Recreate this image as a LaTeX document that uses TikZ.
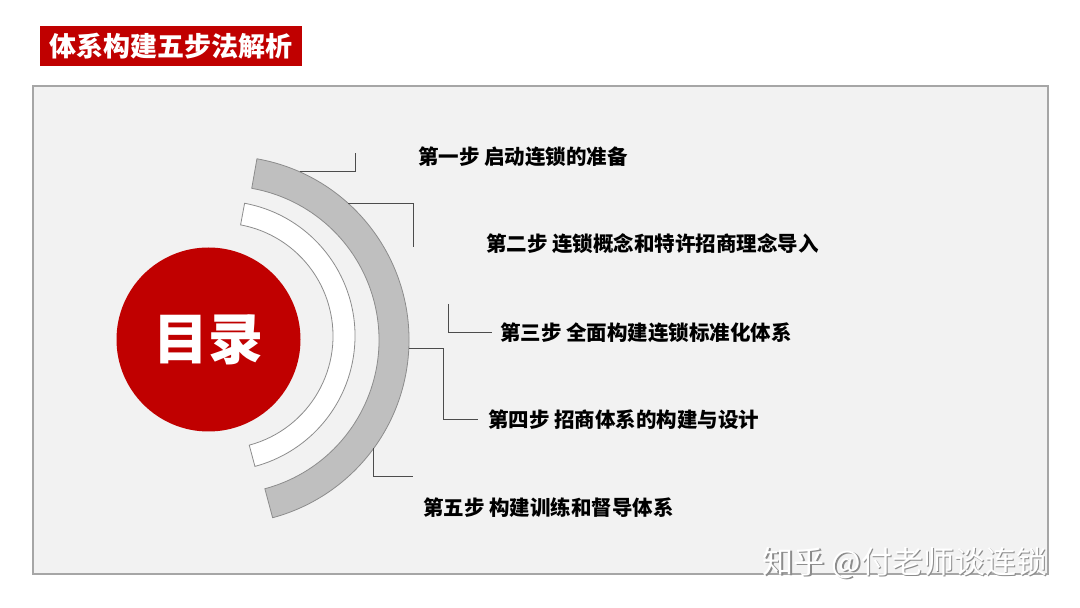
\documentclass[tikz,border=0pt]{standalone}
\usepackage{fontspec}
\setmainfont{Noto Sans CJK SC}
\usetikzlibrary{calc}

\definecolor{titelrot}{HTML}{C00000}
\definecolor{rahmengrau}{HTML}{F2F2F2}
\definecolor{bandgrau}{HTML}{BFBFBF}
\definecolor{kantengrau}{HTML}{8C8C8C}

\begin{document}
\begin{tikzpicture}[x=1pt, y=1pt,
    steptext/.style={anchor=west, inner sep=0pt, font=\fontsize{20.5}{24}\selectfont\bfseries},
    leader/.style={draw=black!70, line width=1pt},
    band/.style={draw=kantengrau, line width=0.8pt}]
        \useasboundingbox[fill=white] (0,0) rectangle (1080,608);

        %Titel und Rahmen
        \node[fill=titelrot, minimum width=262pt, minimum height=40pt, inner sep=0pt, text=white,
              font=\fontsize{27}{30}\selectfont\bfseries](titel) at (171,562){体系构建五步法解析};
        \draw[fill=rahmengrau, draw=black!35, line width=1.2pt] (33,34) rectangle (1048,522);

        %Boegen
        \coordinate (m1) at (225,268);
        \coordinate (m2) at (220,272);
        \draw[band, fill=bandgrau] ($(m1)+(80:184)$) arc[start angle=80, end angle=-75, radius=184]
            -- ($(m1)+(-75:154)$) arc[start angle=-75, end angle=80, radius=154] -- cycle;
        \draw[band, fill=white] ($(m2)+(79.5:135)$) arc[start angle=79.5, end angle=-75, radius=135]
            -- ($(m2)+(-75:113)$) arc[start angle=-75, end angle=79.5, radius=113] -- cycle;

        %Kreis
        \node[circle, fill=titelrot, minimum size=184pt, inner sep=0pt, text=white,
              font=\fontsize{55}{60}\selectfont\bfseries](kreis) at (208.5,268.5){目录};

        %Schritte
        \node[steptext](s1) at (418,451){第一步 启动连锁的准备};
        \node[steptext](s2) at (486,364){第二步 连锁概念和特许招商理念导入};
        \node[steptext](s3) at (500,275){第三步 全面构建连锁标准化体系};
        \node[steptext](s4) at (488,188){第四步 招商体系的构建与设计};
        \node[steptext](s5) at (423,100){第五步 构建训练和督导体系};

        %Verbindungen
        \coordinate (a1) at ($(m1)+(66:184)$);
        \coordinate (e1) at (355,455);
        \coordinate (a2) at ($(m1)+(48:184)$);
        \coordinate (e2) at (413,361);
        \coordinate (a3) at (448,304);
        \coordinate (a4) at ($(m1)+(-2.5:184)$);
        \coordinate (a5) at ($(m1)+(-36:184)$);
        \coordinate (e5) at (413,131);

        \draw[leader] (a1) -| (e1);
        \draw[leader] (a2) -| (e2);
        \draw[leader] (a3) |- ([xshift=-8pt]s3.west);
        \draw[leader] (a4) -- ++(35,0) |- ([xshift=-10pt]s4.west);
        \draw[leader] (a5) |- (e5);

        %Wasserzeichen
        \node[text=black!45, font=\fontsize{31}{36}\selectfont](schatten) at (906.5,43.5){知乎 @付老师谈连锁};
        \node[text=white, font=\fontsize{31}{36}\selectfont](zhihu) at (905,45){知乎 @付老师谈连锁};
\end{tikzpicture}
\end{document}
